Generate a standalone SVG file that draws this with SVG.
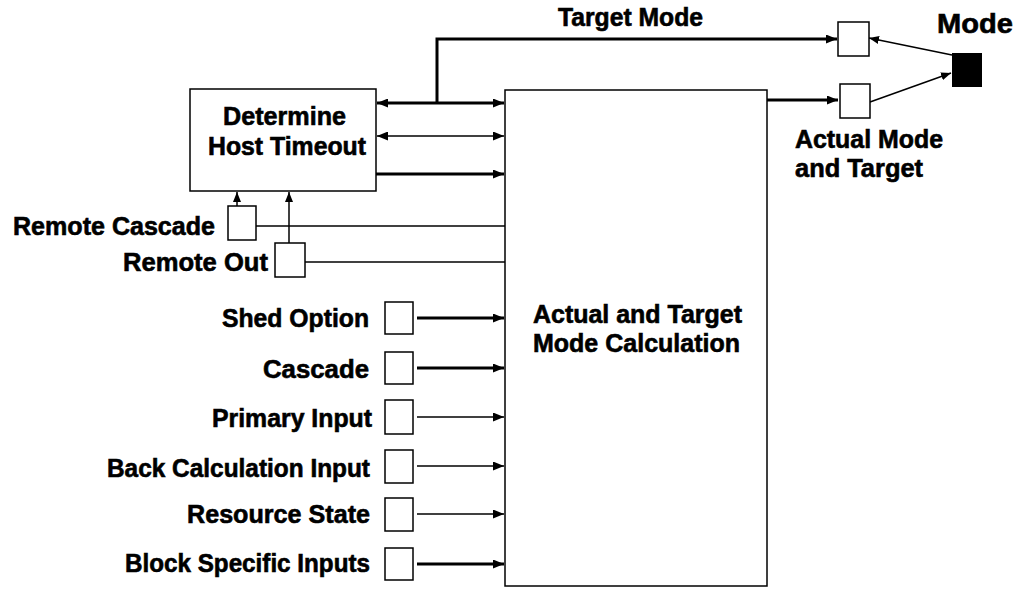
<svg xmlns="http://www.w3.org/2000/svg" width="1027" height="589" viewBox="0 0 1027 589">
<defs>
<style>
.t{font-family:"Liberation Sans",Arial,sans-serif;font-weight:bold;font-size:25px;fill:#000;stroke:#000;stroke-width:0.6}
.box{fill:#fff;stroke:#000;stroke-width:1.5}
.thick{stroke:#000;stroke-width:3;fill:none}
.thin{stroke:#000;stroke-width:1.5;fill:none}
</style>
<marker id="ah" markerUnits="userSpaceOnUse" markerWidth="11" markerHeight="9" refX="11" refY="4.5" orient="auto-start-reverse">
<path d="M0,0 L11,4.5 L0,9 Z" fill="#000"/>
</marker>
<marker id="ahs" markerUnits="userSpaceOnUse" markerWidth="10" markerHeight="8" refX="10" refY="4" orient="auto-start-reverse">
<path d="M0,0 L10,4 L0,8 Z" fill="#000"/>
</marker>
</defs>
<rect width="1027" height="589" fill="#fff"/>

<g id="connectors">
<path class="thick" d="M377,103 L504,103" marker-start="url(#ah)" marker-end="url(#ah)"/>
<path class="thick" d="M437,103 L437,39 L837,39" marker-end="url(#ah)"/>
<path class="thin" d="M377,136 L504,136" marker-start="url(#ah)" marker-end="url(#ah)"/>
<path class="thick" d="M376,174 L504,174" marker-end="url(#ah)"/>
<path class="thick" d="M766,100 L838,100" marker-end="url(#ah)"/>
<path class="thin" d="M952,55 L869,38" marker-end="url(#ahs)"/>
<path class="thin" d="M870,102 L951,73" marker-end="url(#ahs)"/>
<path class="thin" d="M237,206 L237,192" marker-end="url(#ahs)"/>
<path class="thin" d="M289,243 L289,192" marker-end="url(#ahs)"/>
<path class="thin" d="M256,226 L505,226"/>
<path class="thin" d="M305,262 L505,262"/>
<path class="thick" d="M417,318 L504,318" marker-end="url(#ah)"/>
<path class="thick" d="M417,368 L504,368" marker-end="url(#ah)"/>
<path class="thin" d="M417,417 L504,417" marker-end="url(#ah)"/>
<path class="thin" d="M417,466 L504,466" marker-end="url(#ah)"/>
<path class="thin" d="M417,514 L504,514" marker-end="url(#ah)"/>
<path class="thick" d="M417,564 L504,564" marker-end="url(#ah)"/>
</g>

<g id="determine">
<rect class="box" x="190" y="89" width="186" height="102"/>
<text class="t" x="223" y="125" textLength="123" lengthAdjust="spacingAndGlyphs">Determine</text>
<text class="t" x="208" y="155" textLength="158" lengthAdjust="spacingAndGlyphs">Host Timeout</text>
</g>

<g id="calc">
<rect class="box" x="505" y="90" width="262" height="496"/>
<text class="t" x="533" y="323" textLength="209" lengthAdjust="spacingAndGlyphs">Actual and Target</text>
<text class="t" x="533" y="352" textLength="207" lengthAdjust="spacingAndGlyphs">Mode Calculation</text>
</g>

<g id="target-mode">
<text class="t" x="558" y="26" textLength="145" lengthAdjust="spacingAndGlyphs">Target Mode</text>
<rect class="box" x="838" y="22" width="31" height="34"/>
</g>

<g id="actual-mode">
<rect class="box" x="840" y="84" width="30" height="34"/>
<text class="t" x="795" y="148" textLength="148" lengthAdjust="spacingAndGlyphs">Actual Mode</text>
<text class="t" x="795" y="177" textLength="128" lengthAdjust="spacingAndGlyphs">and Target</text>
</g>

<g id="mode">
<text class="t" x="937" y="33" textLength="76" lengthAdjust="spacingAndGlyphs" style="font-size:28px">Mode</text>
<rect x="952" y="53" width="30" height="34" fill="#000"/>
</g>

<g id="remote-cascade">
<text class="t" x="13" y="235" textLength="202" lengthAdjust="spacingAndGlyphs">Remote Cascade</text>
<rect class="box" x="228" y="206" width="28" height="34"/>
</g>

<g id="remote-out">
<text class="t" x="123" y="271" textLength="145" lengthAdjust="spacingAndGlyphs">Remote Out</text>
<rect class="box" x="275" y="243" width="30" height="34"/>
</g>

<g id="shed-option">
<text class="t" x="222" y="327" textLength="147" lengthAdjust="spacingAndGlyphs">Shed Option</text>
<rect class="box" x="385" y="302" width="28" height="32"/>
</g>

<g id="cascade">
<text class="t" x="263" y="378" textLength="106" lengthAdjust="spacingAndGlyphs">Cascade</text>
<rect class="box" x="385" y="352" width="28" height="32"/>
</g>

<g id="primary-input">
<text class="t" x="212" y="427" textLength="160" lengthAdjust="spacingAndGlyphs">Primary Input</text>
<rect class="box" x="385" y="400" width="28" height="34" fill="none"/>
</g>

<g id="back-calc">
<text class="t" x="107" y="477" textLength="263" lengthAdjust="spacingAndGlyphs">Back Calculation Input</text>
<rect class="box" x="385" y="450" width="28" height="33" fill="none"/>
</g>

<g id="resource-state">
<text class="t" x="187" y="523" textLength="183" lengthAdjust="spacingAndGlyphs">Resource State</text>
<rect class="box" x="385" y="498" width="28" height="33" fill="none"/>
</g>

<g id="block-specific">
<text class="t" x="125" y="572" textLength="245" lengthAdjust="spacingAndGlyphs">Block Specific Inputs</text>
<rect class="box" x="385" y="548" width="28" height="32"/>
</g>
</svg>
